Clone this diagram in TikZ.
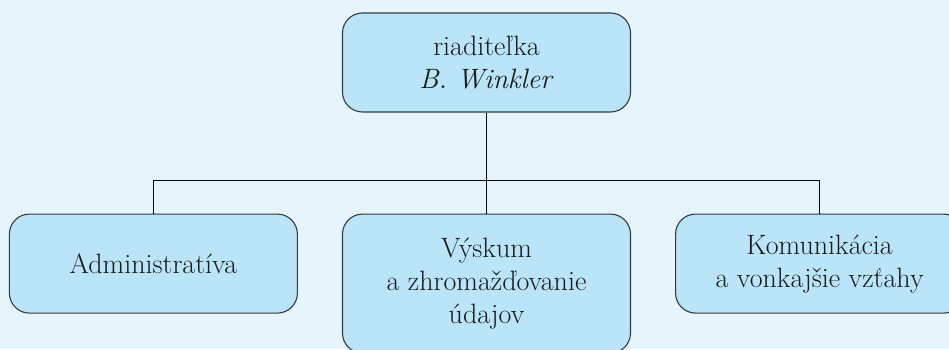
\documentclass[tikz,border=0pt]{standalone}
\usepackage{xcolor}
\usepackage{tikz}
\usetikzlibrary{positioning}

\definecolor{pagebg}{RGB}{230,244,252}
\definecolor{boxfill}{RGB}{186,228,248}
\definecolor{boxline}{RGB}{55,58,62}

\begin{document}
\begin{tikzpicture}[
    orgbox/.style={draw=boxline, line width=1.1pt, fill=boxfill, rounded corners=20pt,
        minimum width=288pt, minimum height=99pt, align=center,
        font=\fontsize{28}{33}\selectfont, text=black!90},
    link/.style={draw=black, line width=1.1pt}]
        % Background
        \fill[pagebg] (0,0) rectangle (949pt,349pt);
        \useasboundingbox (0,0) rectangle (949pt,349pt);

        % Head
        \node[orgbox] (boss) at (486.5pt,286.5pt) {riaditeľka\\\textit{B. Winkler}};

        % Departments
        \node[orgbox, minimum height=139pt, below=101pt of boss] (research) {Výskum\\a zhromažďovanie\\údajov};
        \node[orgbox, anchor=north east] (admin) at ([xshift=-44pt]research.north west) {Administratíva};
        \node[orgbox, anchor=north west] (comm) at ([xshift=44pt]research.north east) {Komunikácia\\a vonkajšie vzťahy};

        % Lines
        \coordinate (bus) at ([yshift=33pt]research.north);
        \draw[link] (boss.south) -- (research.north);
        \draw[link] (admin.north) |- (bus) -| (comm.north);
    \end{tikzpicture}
\end{document}
